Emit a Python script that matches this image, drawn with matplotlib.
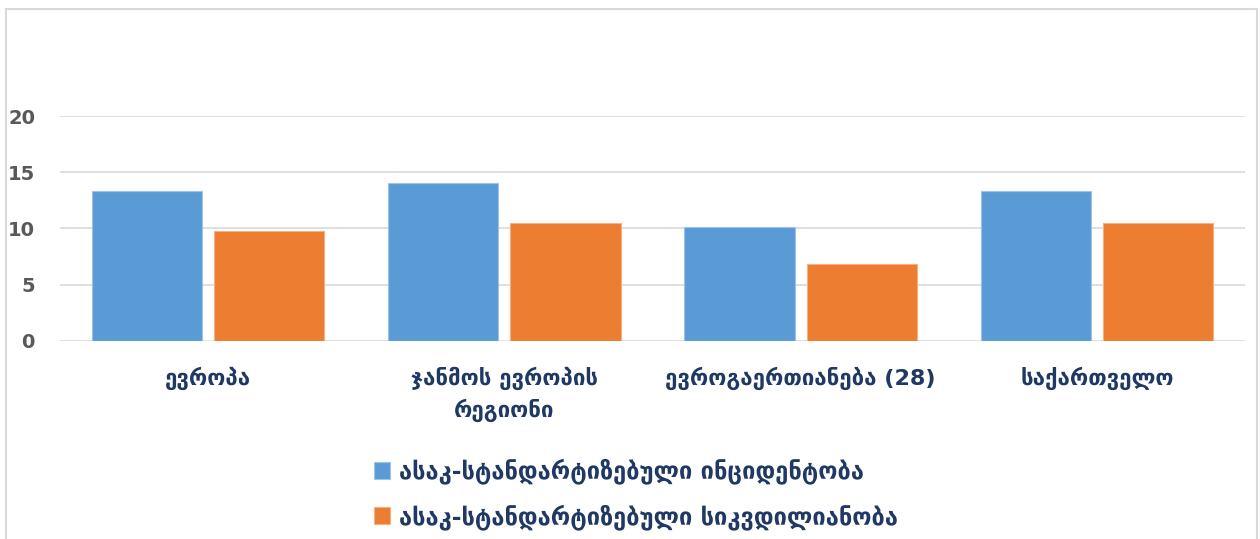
import numpy as np
import matplotlib
matplotlib.use("Agg")
import matplotlib.pyplot as plt
from matplotlib.lines import Line2D

# data
categories = ["ევროპა", "ჯანმოს ევროპის\nრეგიონი", "ევროგაერთიანება (28)", "საქართველო"]
incidence = [13.3, 14.0, 10.1, 13.3]
mortality = [9.75, 10.45, 6.8, 10.5]
series_names = ["ასაკ-სტანდარტიზებული ინციდენტობა", "ასაკ-სტანდარტიზებული სიკვდილიანობა"]
yticks = [0, 5, 10, 15, 20]

W, H = 1260, 539
fig = plt.figure(figsize=(W / 100, H / 100), dpi=100)
ax = fig.add_axes([60 / W, (H - 340.7) / H, 1185 / W, 224.7 / H])

x = np.arange(len(categories))
bw = 0.372
gap = 0.04
ax.bar(x - (bw + gap) / 2, incidence, bw, color="#5B9BD5", edgecolor="#9DC3E6", linewidth=0.8,
       label=series_names[0], zorder=3)
ax.bar(x + (bw + gap) / 2, mortality, bw, color="#ED7D31", edgecolor="#F4B183", linewidth=0.8,
       label=series_names[1], zorder=3)

ax.set_xlim(-0.5, len(categories) - 0.5)
ax.set_ylim(0, 20)
ax.set_yticks(yticks)
ax.yaxis.grid(True, color="#D9D9D9", linewidth=1.2, zorder=0)
ax.set_axisbelow(True)
for s in ax.spines.values():
    s.set_visible(False)
ax.tick_params(axis="both", length=0)
ax.tick_params(axis="y", pad=18, labelsize=14, labelcolor="#595959")
for t in ax.get_yticklabels():
    t.set_fontweight("bold")

ax.set_xticks(x)
ax.set_xticklabels(categories, fontsize=16, fontweight="bold", color="#1F3864", linespacing=1.45)
ax.tick_params(axis="x", pad=19)

leg = fig.legend(loc="upper center", bbox_to_anchor=(0.505, (H - 437) / H), ncol=1, frameon=False,
                 fontsize=17, handlelength=0.65, handleheight=0.75, handletextpad=0.4, labelspacing=0.84)
for t in leg.get_texts():
    t.set_color("#1F3864")
    t.set_fontweight("bold")

# outer chart frame
fc = "#D9D9D9"
top = (H - 9) / H
fig.add_artist(Line2D([6 / W, 1257 / W], [top, top], color=fc, lw=1.5, transform=fig.transFigure))
fig.add_artist(Line2D([6 / W, 6 / W], [0, top], color=fc, lw=1.5, transform=fig.transFigure))
fig.add_artist(Line2D([1257 / W, 1257 / W], [0, top], color=fc, lw=1.5, transform=fig.transFigure))

fig.savefig("out.png", dpi=100)
